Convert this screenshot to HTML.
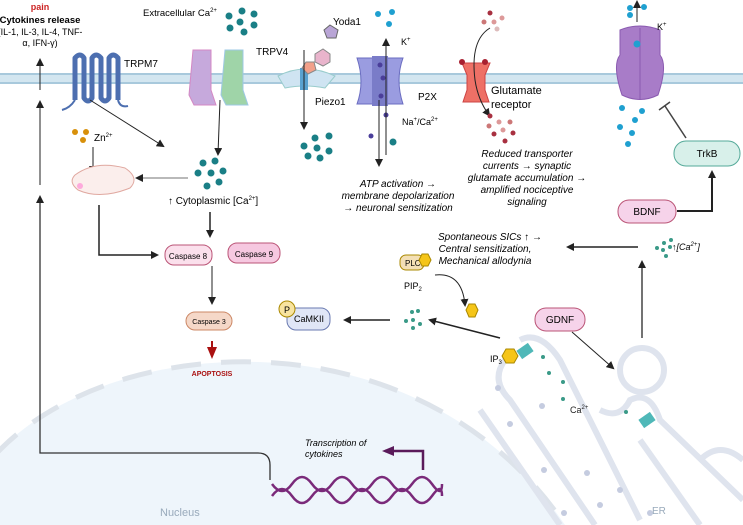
<!DOCTYPE html>
<html><head><meta charset="utf-8"><style>
html,body{margin:0;background:#fff;overflow:hidden;width:743px;height:525px}
svg{display:block;font-family:"Liberation Sans",sans-serif}
</style></head><body>
<svg width="743" height="525" viewBox="0 0 743 525" xmlns="http://www.w3.org/2000/svg">
<defs>
<marker id="a" markerWidth="8" markerHeight="8" refX="6" refY="4" orient="auto" markerUnits="userSpaceOnUse"><path d="M0,0 L8,4 L0,8z" fill="#222"/></marker>
<marker id="ap" markerWidth="12" markerHeight="10" refX="9" refY="5" orient="auto" markerUnits="userSpaceOnUse"><path d="M0,0 L12,5 L0,10z" fill="#5a1a5a"/></marker>
<marker id="ar" markerWidth="12" markerHeight="10" refX="9" refY="5" orient="auto" markerUnits="userSpaceOnUse"><path d="M0,0 L12,5 L0,10z" fill="#a11"/></marker>
</defs>
<!-- nucleus -->
<path d="M-5 455 C 110 330, 420 310, 565 525 L-5 525 Z" fill="#eef5fb"/>
<path d="M-5 455 C 110 330, 420 310, 565 525" fill="none" stroke="#dde3ea" stroke-width="5" stroke-dasharray="30 20"/>
<text x="160" y="516" font-size="11" fill="#9ab">Nucleus</text>
<!-- ER -->
<g fill="none" stroke="#dfe4ee" stroke-width="6">
<path d="M520 340 Q540 330 560 360 L640 520"/>
<path d="M505 360 Q490 380 510 400 L595 525"/>
<path d="M480 410 L560 525"/>
<path d="M600 410 Q620 420 630 400 Q650 390 660 420 L743 500"/>
<path d="M640 440 L700 525"/>
<path d="M700 460 Q720 440 743 460"/>
</g>
<circle cx="642" cy="370" r="22" fill="none" stroke="#dfe4ee" stroke-width="6"/>
<g fill="#c5cce0"><circle cx="498" cy="388" r="3"/><circle cx="542" cy="406" r="3"/><circle cx="510" cy="424" r="3"/><circle cx="544" cy="470" r="3"/><circle cx="587" cy="473" r="3"/><circle cx="620" cy="490" r="3"/><circle cx="600" cy="505" r="3"/><circle cx="564" cy="513" r="3"/><circle cx="650" cy="513" r="3"/></g>
<text x="652" y="514" font-size="10" fill="#9ab">ER</text>
<g fill="#3a9a88"><circle cx="543" cy="357" r="2"/><circle cx="549" cy="373" r="2"/><circle cx="563" cy="382" r="2"/><circle cx="563" cy="399" r="2"/><circle cx="626" cy="412" r="2"/></g>
<text x="570" y="413" font-size="9" fill="#222">Ca<tspan font-size="6" dy="-4">2+</tspan></text>
<rect x="518" y="346" width="14" height="10" fill="#4fb8b8" transform="rotate(-35 525 351)"/>
<rect x="640" y="415" width="14" height="10" fill="#4fb8b8" transform="rotate(-35 647 420)"/>
<polygon points="506,349 514,349 518,356 514,363 506,363 502,356" fill="#f5c518" stroke="#a80"/>
<text x="490" y="362" font-size="9">IP<tspan font-size="6" dy="2">3</tspan></text>
<!-- membrane -->
<rect x="0" y="74" width="743" height="9" fill="#d3e6f0"/>
<line x1="0" y1="74" x2="743" y2="74" stroke="#a8c9dc" stroke-width="2"/>
<line x1="0" y1="83" x2="743" y2="83" stroke="#a8c9dc" stroke-width="2"/>
<!-- TRPM7 -->
<g fill="none" stroke="#4d6fb0" stroke-width="5" stroke-linejoin="round">
<path d="M75 100 V58 Q80 52 84 58 V98 Q88 104 92 98 V58 Q96 52 101 58 V98 Q105 104 109 98 V58 Q113 52 118 58 V100"/>
</g>
<path d="M75 100 Q70 108 62 110 M118 100 Q120 108 128 106" stroke="#4d6fb0" stroke-width="2" fill="none"/>
<text x="124" y="67" font-size="10">TRPM7</text>
<!-- TRPV4 -->
<path d="M193 50 h18 v40 l5 15 h-22 l-5 -10 z" fill="#c6a9dc" stroke="#d488c4"/>
<path d="M225 50 h18 v40 l5 15 h-22 l-5 -10 z" fill="#9fd4a8" stroke="#9ec8e4"/>
<text x="256" y="55" font-size="10">TRPV4</text>
<!-- Piezo1 -->
<path d="M278 76 Q305 62 335 76 L325 88 Q305 84 285 88 z" fill="#cfe4f2" stroke="#9cc"/>
<rect x="300" y="68" width="8" height="22" fill="#5aa2d0"/>
<polygon points="330,25 338,30 336,38 327,38 324,30" fill="#b9a5d6" stroke="#666"/>
<polygon points="315,54 323,49 330,54 330,62 323,66 315,62" fill="#e9b4cc" stroke="#888"/>
<polygon points="314,62 316,70 308,74 302,68 306,62" fill="#f2a08a" stroke="#888"/>
<text x="333" y="25" font-size="10">Yoda1</text>
<text x="315" y="105" font-size="10">Piezo1</text>
<line x1="304" y1="50" x2="304" y2="128" stroke="#222" marker-end="url(#a)"/>
<g fill="#1a7f86"><circle cx="315" cy="138" r="3.5"/><circle cx="329" cy="136" r="3.5"/><circle cx="304" cy="146" r="3.5"/><circle cx="317" cy="148" r="3.5"/><circle cx="329" cy="151" r="3.5"/><circle cx="308" cy="156" r="3.5"/><circle cx="320" cy="158" r="3.5"/></g>
<!-- Extracellular Ca -->
<text x="143" y="16" font-size="9.5">Extracellular Ca<tspan font-size="6" dy="-4">2+</tspan></text>
<g fill="#1a7f86"><circle cx="229" cy="16" r="3.5"/><circle cx="242" cy="11" r="3.5"/><circle cx="254" cy="14" r="3.5"/><circle cx="240" cy="22" r="3.5"/><circle cx="230" cy="28" r="3.5"/><circle cx="254" cy="25" r="3.5"/><circle cx="244" cy="32" r="3.5"/></g>
<!-- P2X -->
<path d="M357 58 h46 q-8 22 0 46 h-46 q8 -22 0 -46z" fill="#9a9ce0" stroke="#6a6cc0"/>
<rect x="372" y="56" width="16" height="50" fill="#7a7cc8"/>
<g fill="#4a3e9a"><circle cx="380" cy="65" r="2.5"/><circle cx="383" cy="78" r="2.5"/><circle cx="381" cy="96" r="2.5"/><circle cx="386" cy="115" r="2.5"/><circle cx="371" cy="136" r="2.5"/></g>
<circle cx="393" cy="142" r="3.5" fill="#1a7f86"/>
<line x1="386" y1="155" x2="386" y2="40" stroke="#222" marker-end="url(#a)"/>
<line x1="379" y1="100" x2="379" y2="165" stroke="#222" marker-end="url(#a)"/>
<g fill="#1fa0d0"><circle cx="378" cy="14" r="3"/><circle cx="392" cy="12" r="3"/><circle cx="389" cy="24" r="3"/></g>
<text x="401" y="45" font-size="9">K<tspan font-size="6" dy="-4">+</tspan></text>
<text x="418" y="100" font-size="10">P2X</text>
<text x="402" y="125" font-size="9">Na<tspan font-size="6" dy="-4">+</tspan><tspan dy="4">/Ca</tspan><tspan font-size="6" dy="-4">2+</tspan></text>
<g font-size="10" font-style="italic" text-anchor="middle"><text x="398" y="187">ATP activation →</text><text x="398" y="199">membrane depolarization</text><text x="398" y="211">→ neuronal sensitization</text></g>
<!-- Glutamate -->
<path d="M462 63 h28 l-5 12 v15 l4 12 h-26 l4 -12 v-15z" fill="#ee7066" stroke="#c44"/>
<circle cx="462" cy="62" r="3" fill="#a82030"/><circle cx="485" cy="62" r="3" fill="#a82030"/>
<path d="M490 28 Q470 40 475 80 Q478 100 489 115" stroke="#222" fill="none" marker-end="url(#a)"/>
<g><circle cx="490" cy="13" r="2.5" fill="#a83040"/><circle cx="484" cy="22" r="2.5" fill="#c77"/><circle cx="494" cy="22" r="2.5" fill="#d99"/><circle cx="497" cy="29" r="2.5" fill="#dbb"/><circle cx="502" cy="18" r="2.5" fill="#d99"/></g>
<g><circle cx="490" cy="116" r="2.5" fill="#a83040"/><circle cx="489" cy="126" r="2.5" fill="#c77"/><circle cx="499" cy="122" r="2.5" fill="#d99"/><circle cx="510" cy="122" r="2.5" fill="#c77"/><circle cx="503" cy="130" r="2.5" fill="#d99"/><circle cx="494" cy="134" r="2.5" fill="#a83040"/><circle cx="513" cy="133" r="2.5" fill="#a83040"/><circle cx="505" cy="141" r="2.5" fill="#a83040"/></g>
<text x="491" y="94" font-size="11">Glutamate</text><text x="491" y="108" font-size="11">receptor</text>
<g font-size="10" font-style="italic" text-anchor="middle"><text x="527" y="157">Reduced transporter</text><text x="527" y="169">currents → synaptic</text><text x="527" y="181">glutamate accumulation →</text><text x="527" y="193">amplified nociceptive</text><text x="527" y="205">signaling</text></g>
<!-- K channel -->
<path d="M620 30 Q640 22 660 30 L660 55 Q668 65 658 95 Q640 104 622 95 Q612 65 620 55z" fill="#a87cc8" stroke="#8a5ab0"/>
<line x1="640" y1="28" x2="640" y2="100" stroke="#8a5ab0"/>
<circle cx="637" cy="44" r="3.5" fill="#1fa0d0"/>
<line x1="637" y1="22" x2="637" y2="2" stroke="#222" marker-end="url(#a)"/>
<g fill="#1fa0d0"><circle cx="630" cy="8" r="3"/><circle cx="644" cy="7" r="3"/><circle cx="630" cy="15" r="3"/></g>
<text x="657" y="30" font-size="9">K<tspan font-size="6" dy="-4">+</tspan></text>
<g fill="#1fa0d0"><circle cx="622" cy="108" r="3"/><circle cx="642" cy="111" r="3"/><circle cx="635" cy="120" r="3"/><circle cx="620" cy="127" r="3"/><circle cx="632" cy="133" r="3"/><circle cx="628" cy="144" r="3"/></g>
<line x1="686" y1="138" x2="665" y2="106" stroke="#444" stroke-width="1.5"/>
<line x1="659" y1="110" x2="670" y2="102" stroke="#444" stroke-width="1.5"/>
<rect x="674" y="141" width="66" height="25" rx="12" fill="#d8f0ea" stroke="#5a9" />
<text x="707" y="157" font-size="10" text-anchor="middle">TrkB</text>
<rect x="618" y="200" width="58" height="23" rx="11" fill="#f6d3ea" stroke="#b57"/>
<text x="647" y="215" font-size="10" text-anchor="middle">BDNF</text>
<path d="M677 211 H712 V172" stroke="#222" stroke-width="2" fill="none" marker-end="url(#a)"/>
<g fill="#3a9a88"><circle cx="664" cy="243" r="2"/><circle cx="657" cy="248" r="2"/><circle cx="663" cy="250" r="2"/><circle cx="670" cy="247" r="2"/><circle cx="666" cy="256" r="2"/><circle cx="671" cy="240" r="2"/></g>
<text x="672" y="250" font-size="9" font-style="italic">↑[Ca<tspan font-size="6" dy="-4">2+</tspan><tspan dy="4">]</tspan></text>
<line x1="638" y1="247" x2="568" y2="247" stroke="#222" stroke-width="1.5" marker-end="url(#a)"/>
<g font-size="10" font-style="italic" text-anchor="middle"><text x="490" y="240">Spontaneous SICs ↑ →</text><text x="485" y="252">Central sensitization,</text><text x="485" y="264">Mechanical allodynia</text></g>
<line x1="642" y1="338" x2="642" y2="262" stroke="#444" stroke-width="1.5" marker-end="url(#a)"/>
<rect x="535" y="308" width="50" height="23" rx="11" fill="#f6d3ea" stroke="#b57"/>
<text x="560" y="323" font-size="10" text-anchor="middle">GDNF</text>
<line x1="572" y1="332" x2="613" y2="368" stroke="#222" marker-end="url(#a)"/>
<!-- PLC -->
<rect x="400" y="255" width="24" height="15" rx="6" fill="#f3dfb5" stroke="#a80"/>
<text x="405" y="266" font-size="8">PLC</text>
<polygon points="422,254 428,254 431,260 428,266 422,266 419,260" fill="#f5c518" stroke="#a80"/>
<text x="404" y="289" font-size="9">PIP<tspan font-size="6" dy="2">2</tspan></text>
<path d="M435 275 Q462 272 465 305" stroke="#222" fill="none" marker-end="url(#a)"/>
<polygon points="469,304 475,304 478,310 475,317 469,317 466,310" fill="#f5c518" stroke="#a80"/>
<g fill="#3a9a88"><circle cx="412" cy="312" r="2"/><circle cx="418" cy="311" r="2"/><circle cx="406" cy="321" r="2"/><circle cx="413" cy="320" r="2"/><circle cx="420" cy="324" r="2"/><circle cx="413" cy="328" r="2"/></g>
<line x1="500" y1="338" x2="430" y2="320" stroke="#222" stroke-width="1.5" marker-end="url(#a)"/>
<line x1="390" y1="320" x2="345" y2="320" stroke="#222" stroke-width="1.5" marker-end="url(#a)"/>
<rect x="287" y="308" width="43" height="22" rx="9" fill="#e0e6f6" stroke="#6a7ab0"/>
<text x="294" y="322" font-size="9">CaMKII</text>
<circle cx="287" cy="309" r="8" fill="#f8e4a0" stroke="#a80"/>
<text x="287" y="313" font-size="9" text-anchor="middle">P</text>
<!-- Zn / mito -->
<g fill="#d8900a"><circle cx="75" cy="132" r="3"/><circle cx="86" cy="132" r="3"/><circle cx="83" cy="140" r="3"/></g>
<text x="94" y="141" font-size="10">Zn<tspan font-size="6" dy="-4">2+</tspan></text>
<line x1="93" y1="147" x2="93" y2="172" stroke="#222" marker-end="url(#a)"/>
<path d="M75 175 Q95 160 125 168 Q140 178 130 188 Q100 200 78 190 Q68 182 75 175z" fill="#fbeeec" stroke="#e0a8a0"/>
<circle cx="80" cy="186" r="3" fill="#f6c" opacity=".5"/>
<line x1="188" y1="178" x2="137" y2="178" stroke="#444" stroke-width=".8" marker-end="url(#a)"/>
<line x1="90" y1="100" x2="163" y2="146" stroke="#222" marker-end="url(#a)"/>
<line x1="220" y1="100" x2="218" y2="154" stroke="#222" marker-end="url(#a)"/>
<g fill="#1a7f86"><circle cx="203" cy="163" r="3.5"/><circle cx="215" cy="161" r="3.5"/><circle cx="198" cy="173" r="3.5"/><circle cx="211" cy="173" r="3.5"/><circle cx="223" cy="171" r="3.5"/><circle cx="207" cy="186" r="3.5"/><circle cx="219" cy="182" r="3.5"/></g>
<text x="168" y="204" font-size="10">↑ Cytoplasmic [Ca<tspan font-size="6" dy="-4">2+</tspan><tspan dy="4">]</tspan></text>
<line x1="210" y1="212" x2="210" y2="236" stroke="#222" stroke-width="1.5" marker-end="url(#a)"/>
<path d="M99 205 V255 H157" stroke="#222" stroke-width="1.5" fill="none" marker-end="url(#a)"/>
<rect x="165" y="245" width="47" height="20" rx="9" fill="#fbe0ec" stroke="#b57"/>
<text x="188" y="259" font-size="8" text-anchor="middle">Caspase 8</text>
<rect x="228" y="243" width="52" height="20" rx="9" fill="#f6c8e0" stroke="#b57"/>
<text x="254" y="257" font-size="8" text-anchor="middle">Caspase 9</text>
<line x1="212" y1="266" x2="212" y2="303" stroke="#222" marker-end="url(#a)"/>
<rect x="186" y="312" width="46" height="18" rx="9" fill="#f5d8c8" stroke="#c86"/>
<text x="209" y="324" font-size="7" text-anchor="middle">Caspase 3</text>
<line x1="212" y1="341" x2="212" y2="356" stroke="#a11" stroke-width="2" marker-end="url(#ar)"/>
<text x="212" y="376" font-size="7" font-weight="bold" fill="#a11" text-anchor="middle">APOPTOSIS</text>
<!-- left column -->
<text x="40" y="10" font-size="9" font-weight="bold" fill="#c22" text-anchor="middle">pain</text>
<text x="40" y="23" font-size="9.5" font-weight="bold" text-anchor="middle">Cytokines release</text>
<text x="40" y="35" font-size="9" text-anchor="middle">(IL-1, IL-3, IL-4, TNF-</text>
<text x="40" y="46" font-size="9" text-anchor="middle">α, IFN-γ)</text>
<line x1="40" y1="90" x2="40" y2="60" stroke="#222" marker-end="url(#a)"/>
<line x1="40" y1="185" x2="40" y2="102" stroke="#222" marker-end="url(#a)"/>
<path d="M270 480 V465 Q270 453 258 453 H40 V197" stroke="#333" stroke-width="1.3" fill="none" marker-end="url(#a)"/>
<!-- DNA -->
<g stroke="#7a2a7a" stroke-width="2.5" fill="none">
<path d="M272 484 q10 14 20 0 t20 0 t20 0 t20 0 t20 0 t20 0 t20 0 t20 0 t10 0"/>
<path d="M272 496 q10 -14 20 0 t20 0 t20 0 t20 0 t20 0 t20 0 t20 0 t20 0 t10 0"/>
</g>
<path d="M423 470 V451 H385" stroke="#5a1a5a" stroke-width="2.5" fill="none" marker-end="url(#ap)"/>
<text x="305" y="446" font-size="9" font-style="italic">Transcription of</text>
<text x="305" y="457" font-size="9" font-style="italic">cytokines</text>
</svg>
</body></html>
